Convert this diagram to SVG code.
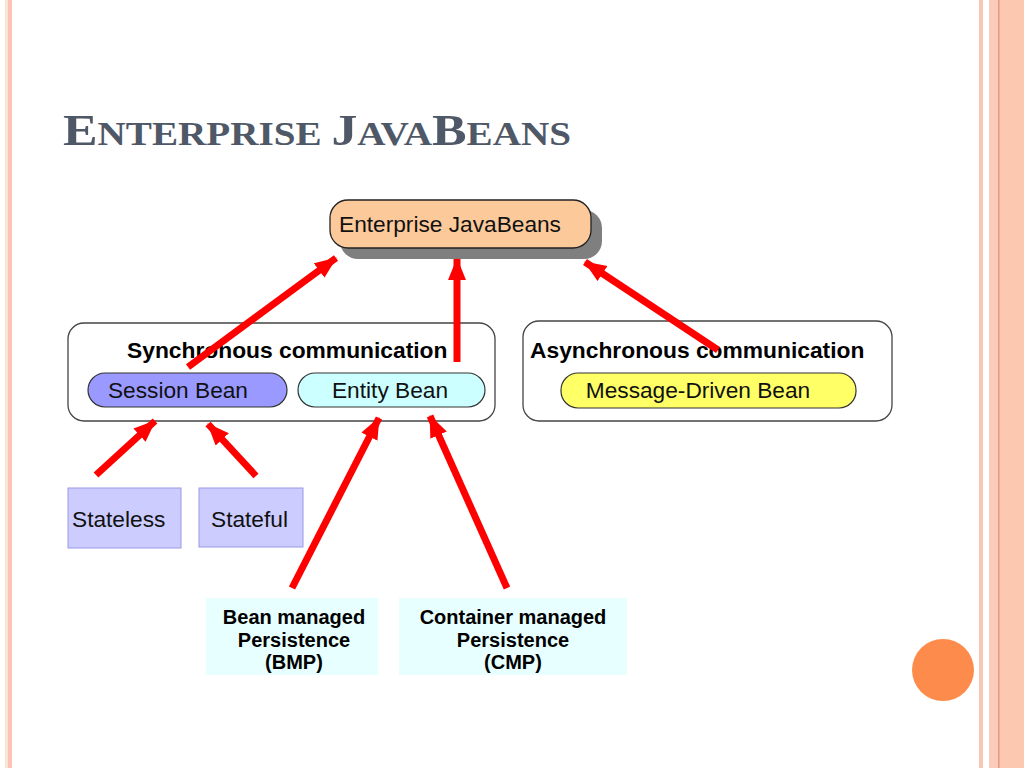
<svg xmlns="http://www.w3.org/2000/svg" width="1024" height="768" viewBox="0 0 1024 768">
<style>
.lbl{font-family:"Liberation Sans",Arial,sans-serif;font-size:22.7px;fill:#111}
.bold{font-family:"Liberation Sans",Arial,sans-serif;font-size:22.8px;font-weight:bold;fill:#000}
.small{font-family:"Liberation Sans",Arial,sans-serif;font-size:20px;font-weight:bold;fill:#000}
.pill{stroke:#333;stroke-width:1.2}
.box{stroke:#444;stroke-width:1.3;fill:#fff}
.state{fill:#ccccff;stroke:#9a9ae8;stroke-width:1}
.pers{fill:#e8ffff}
.conn{stroke:#ff0000;stroke-width:7;fill:none;marker-end:url(#ah)}
</style>
<defs>
<marker id="ah" markerUnits="userSpaceOnUse" markerWidth="24" markerHeight="20" refX="21" refY="9" orient="auto">
<path d="M0,0 L22,9 L0,18 Z" fill="#ff0000"/>
</marker>
</defs>
<rect width="1024" height="768" fill="#fff"/>
<g id="frame">
<rect x="5" y="0" width="3" height="768" fill="#fbe5d6"/>
<rect x="8" y="0" width="4" height="768" fill="#fcc4b4"/>
<rect x="979" y="0" width="4" height="768" fill="#f9c5b5"/>
<rect x="989" y="0" width="35" height="768" fill="#fdc8b0"/>
<rect x="989" y="0" width="9" height="768" fill="#fbcbbb"/>
<rect x="998" y="0" width="1.5" height="768" fill="#e39a7c"/>
<circle cx="943" cy="670" r="31" fill="#fd8b4c"/>
</g>
<text x="63" y="145" font-family="'Liberation Serif',serif" font-weight="bold" fill="#4f5866" textLength="508" lengthAdjust="spacingAndGlyphs"><tspan font-size="45">E</tspan><tspan font-size="34">NTERPRISE </tspan><tspan font-size="45">J</tspan><tspan font-size="34">AVA</tspan><tspan font-size="45">B</tspan><tspan font-size="34">EANS</tspan></text>
<g id="ejb">
<rect x="340" y="210" width="262" height="49" rx="18" fill="#7f7f7f"/>
<rect x="330" y="200" width="261" height="48" rx="18" fill="#fcc99b" stroke="#222" stroke-width="1.3"/>
<text class="lbl" x="339" y="232">Enterprise JavaBeans</text>
</g>
<g id="sync">
<rect class="box" x="68" y="323" width="427" height="98" rx="16"/>
<text class="bold" x="127" y="358">Synchronous communication</text>
</g>
<g id="session">
<rect class="pill" x="88" y="373" width="199" height="34" rx="17" fill="#9999ff"/>
<text class="lbl" x="178" y="398" text-anchor="middle">Session Bean</text>
</g>
<g id="entity">
<rect class="pill" x="298" y="373" width="187" height="34" rx="17" fill="#ccffff"/>
<text class="lbl" x="390" y="398" text-anchor="middle">Entity Bean</text>
</g>
<g id="async">
<rect class="box" x="523" y="321" width="369" height="100" rx="16"/>
<text class="bold" x="530" y="358">Asynchronous communication</text>
</g>
<g id="mdb">
<rect class="pill" x="561" y="373" width="295" height="35" rx="17" fill="#ffff66"/>
<text class="lbl" x="698" y="398" text-anchor="middle">Message-Driven Bean</text>
</g>
<g id="stateless">
<rect class="state" x="68" y="488" width="113" height="60"/>
<text class="lbl" x="72" y="527">Stateless</text>
</g>
<g id="stateful">
<rect class="state" x="199" y="488" width="104" height="59"/>
<text class="lbl" x="211" y="527">Stateful</text>
</g>
<g id="bmp">
<rect class="pers" x="206" y="598" width="172" height="77"/>
<text class="small" text-anchor="middle"><tspan x="294" y="624">Bean managed</tspan><tspan x="294" y="647">Persistence</tspan><tspan x="294" y="669">(BMP)</tspan></text>
</g>
<g id="cmp">
<rect class="pers" x="399" y="598" width="228" height="77"/>
<text class="small" text-anchor="middle"><tspan x="513" y="624">Container managed</tspan><tspan x="513" y="647">Persistence</tspan><tspan x="513" y="669">(CMP)</tspan></text>
</g>
<g id="connectors">
<line class="conn" x1="188" y1="367" x2="336" y2="258"/>
<line class="conn" x1="457" y1="362" x2="457" y2="259"/>
<line class="conn" x1="718" y1="350" x2="585" y2="262"/>
<line class="conn" x1="96" y1="475" x2="155" y2="421"/>
<line class="conn" x1="256" y1="476" x2="208" y2="424"/>
<line class="conn" x1="292" y1="588" x2="379" y2="418"/>
<line class="conn" x1="507" y1="588" x2="430" y2="416"/>
</g>
</svg>
